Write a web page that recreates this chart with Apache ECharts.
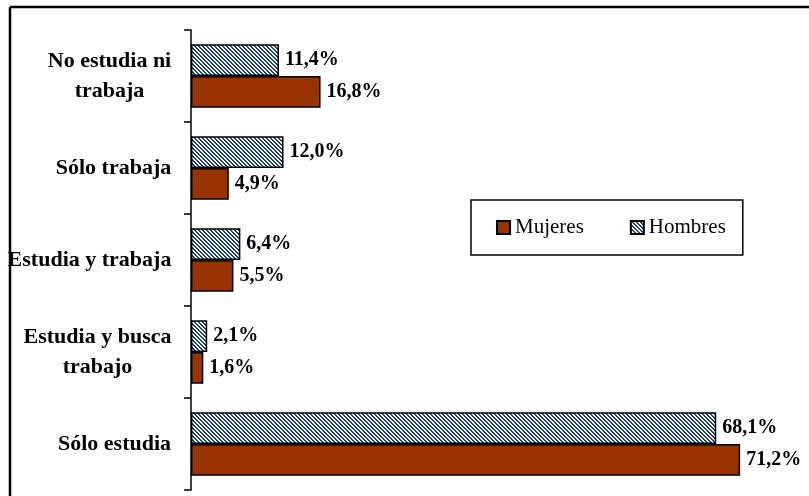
<!DOCTYPE html>
<html>
<head>
<meta charset="utf-8">
<script src="https://cdn.jsdelivr.net/npm/echarts@6/dist/echarts.min.js"></script>
<style>
html,body{margin:0;padding:0;background:#fff;}
#chart{width:809px;height:496px;}
</style>
</head>
<body>
<div id="chart"></div>
<script>
var categories = ['Sólo estudia', 'Estudia y busca\ntrabajo', 'Estudia y trabaja', 'Sólo trabaja', 'No estudia ni\ntrabaja'];
var hombres = [68.1, 2.1, 6.4, 12.0, 11.4];
var mujeres = [71.2, 1.6, 5.5, 4.9, 16.8];
var legendNames = ['Mujeres', 'Hombres'];

var SERIF = '"Liberation Serif", "Times New Roman", serif';
var mc = document.createElement('canvas').getContext('2d');
mc.font = 'bold 22px ' + SERIF;
var rich = {};
categories.forEach(function (c, i) {
  var lines = c.split('\n');
  var w = 0;
  lines.forEach(function (l) { w = Math.max(w, mc.measureText(l).width); });
  rich['c' + i] = {width: Math.ceil(w) + 1, align: 'center', fontFamily: SERIF, fontWeight: 'bold', fontSize: 22, lineHeight: 30, color: '#000'};
});

var pc = document.createElement('canvas');
pc.width = 4; pc.height = 4;
var pctx = pc.getContext('2d');
pctx.fillStyle = '#ffffff';
pctx.fillRect(0, 0, 4, 4);
pctx.fillStyle = '#1c3f73';
for (var y = 0; y < 4; y++) {
  pctx.fillRect(y % 4, y, 1, 1);
  pctx.fillRect((y + 1) % 4, y, 1, 1);
}
var hatch = {image: pc, repeat: 'repeat'};

function pct(p) { return p.value.toFixed(1).replace('.', ',') + '%'; }

var chart = echarts.init(document.getElementById('chart'), null, {renderer: 'canvas'});
chart.setOption({
  animation: false,
  backgroundColor: '#fff',
  graphic: [
    {type: 'line', shape: {x1: 10, y1: 7, x2: 809, y2: 7}, style: {stroke: '#000', lineWidth: 2.5}},
    {type: 'line', shape: {x1: 10, y1: 7, x2: 10, y2: 496}, style: {stroke: '#000', lineWidth: 2.5}}
  ],
  grid: {left: 191, top: 30, width: 617, bottom: 6, containLabel: false},
  legend: {
    data: legendNames,
    left: 471, top: 200,
    orient: 'horizontal',
    icon: 'rect',
    padding: [17, 17, 17, 25],
    itemGap: 46,
    itemWidth: 13, itemHeight: 13,
    borderColor: '#000', borderWidth: 1.5,
    backgroundColor: '#fff',
    textStyle: {fontFamily: SERIF, fontSize: 21, color: '#000'}
  },
  xAxis: {
    type: 'value', min: 0, max: 80,
    show: false
  },
  yAxis: {
    type: 'category',
    data: categories,
    axisLine: {show: true, lineStyle: {color: '#000', width: 1.5}},
    axisTick: {show: true, length: 7, lineStyle: {color: '#000', width: 1.5}},
    axisLabel: {
      margin: 19,
      formatter: function (v, i) {
        return v.split('\n').map(function (l) { return '{c' + i + '|' + l + '}'; }).join('\n');
      },
      rich: rich
    }
  },
  series: [
    {
      name: 'Hombres', type: 'bar', data: hombres,
      barGap: '0%', barCategoryGap: '31%',
      itemStyle: {color: hatch, borderColor: '#000', borderWidth: 1.5},
      label: {show: true, position: 'right', distance: 6, formatter: pct,
        fontFamily: SERIF, fontWeight: 'bold', fontSize: 20, color: '#000'}
    },
    {
      name: 'Mujeres', type: 'bar', data: mujeres,
      barGap: '0%', barCategoryGap: '31%',
      itemStyle: {color: '#993300', borderColor: '#000', borderWidth: 1.5},
      label: {show: true, position: 'right', distance: 6, formatter: pct,
        fontFamily: SERIF, fontWeight: 'bold', fontSize: 20, color: '#000'}
    }
  ]
});
</script>
</body>
</html>
